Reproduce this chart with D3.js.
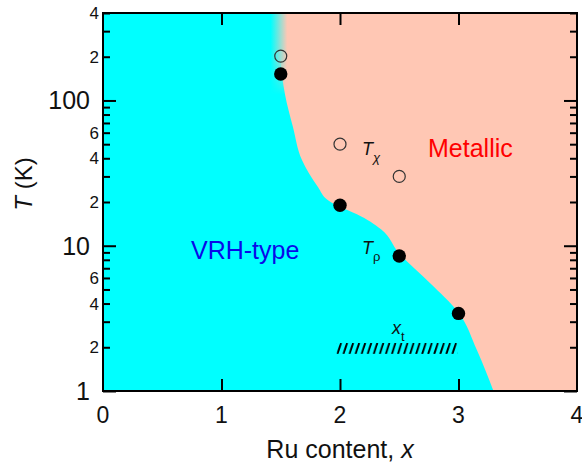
<!DOCTYPE html>
<html>
<head>
<meta charset="utf-8">
<script src="https://cdn.jsdelivr.net/npm/d3@7"></script>
<style>
  html, body { margin: 0; padding: 0; background: #fff; }
  svg { display: block; }
  text { font-family: "Liberation Sans", Arial, Helvetica, sans-serif; }
</style>
</head>
<body>
<svg id="chart" width="582" height="466"></svg>
<script>
// Phase diagram: VRH-type vs metallic regime versus Ru content
const rhoX = [1.5, 2, 2.5, 3];          // T_rho (filled)
const rhoT = [152, 19, 8.5, 3.42];
const chiX = [1.5, 2, 2.5];             // T_chi (open)
const chiT = [202, 50, 30];

// phase boundary between the two regions (top to bottom)
const boundaryX = [1.485, 1.498, 1.536, 1.603, 1.679, 1.814, 1.899, 2.0, 2.143, 2.346, 2.498, 2.759, 2.996, 3.156, 3.295];
const boundaryT = [400, 190, 110, 65.7, 38.9, 25.4, 20.6, 18.5, 16.5, 13.0, 8.9, 5.54, 3.5, 1.91, 1.0];

// x_t hatched range
const xtRange = [1.97, 2.99];
const xtT = [1.8, 2.14];

const xTicks = [0, 1, 2, 3, 4];
const yMajor = [1, 10, 100];
const yMinor = [2, 3, 4, 5, 6, 7, 8, 9, 20, 30, 40, 50, 60, 70, 80, 90, 200, 300, 400];
const yLabels = [1, 2, 4, 6, 10, 20, 40, 60, 100, 200, 400];

const L = 103, R = 577, T = 13, B = 391;
const svg = d3.select("#chart");

const x = d3.scaleLinear().domain([0, 4]).range([L, R]);
const y = d3.scaleLog().domain([1, 400]).range([B, T]);

const defs = svg.append("defs");
defs.append("clipPath").attr("id", "plotClip")
  .append("rect").attr("x", L).attr("y", T).attr("width", R - L).attr("height", B - T);

const grad = defs.append("linearGradient").attr("id", "edgeGrad")
  .attr("x1", "0").attr("x2", "1").attr("y1", "0").attr("y2", "0");
grad.append("stop").attr("offset", "0").attr("stop-color", "#00ffff");
grad.append("stop").attr("offset", "1").attr("stop-color", "#ffc7b4");

const fade = defs.append("linearGradient").attr("id", "fadeGrad")
  .attr("x1", "0").attr("x2", "0").attr("y1", "0").attr("y2", "1");
fade.append("stop").attr("offset", "0").attr("stop-color", "#fff").attr("stop-opacity", 1);
fade.append("stop").attr("offset", "0.55").attr("stop-color", "#fff").attr("stop-opacity", 1);
fade.append("stop").attr("offset", "1").attr("stop-color", "#fff").attr("stop-opacity", 0);
defs.append("mask").attr("id", "fadeMask").attr("maskUnits", "userSpaceOnUse")
  .append("rect").attr("x", x(1.40)).attr("y", T).attr("width", x(1.60) - x(1.40)).attr("height", y(110) - T)
  .attr("fill", "url(#fadeGrad)");

const hatch = defs.append("pattern").attr("id", "hatch")
  .attr("patternUnits", "userSpaceOnUse").attr("width", 6.05).attr("height", 11)
  .attr("x", x(xtRange[0])).attr("y", y(xtT[1]));
hatch.append("line").attr("x1", 1).attr("y1", 11).attr("x2", 4.6).attr("y2", 0)
  .attr("stroke", "#000").attr("stroke-width", 1.9);

const plot = svg.append("g").attr("clip-path", "url(#plotClip)");

// metallic background
plot.append("rect").attr("x", L).attr("y", T).attr("width", R - L).attr("height", B - T)
  .attr("fill", "#ffc7b4");

// VRH region: everything left of the boundary
const boundary = boundaryX.map((d, i) => ({ x: d, t: boundaryT[i] }));
const vrhArea = d3.area()
  .curve(d3.curveMonotoneY)
  .y(d => y(d.t))
  .x0(x(0))
  .x1(d => x(d.x));
plot.append("path").datum(boundary).attr("d", vrhArea).attr("fill", "#00ffff");

// soft edge near the top of the boundary
plot.append("rect")
  .attr("x", x(1.415)).attr("y", T).attr("width", x(1.555) - x(1.415)).attr("height", y(110) - T)
  .attr("fill", "url(#edgeGrad)").attr("mask", "url(#fadeMask)");

// x_t hatched bar
plot.append("rect")
  .attr("x", x(xtRange[0])).attr("y", y(xtT[1]))
  .attr("width", x(xtRange[1]) - x(xtRange[0])).attr("height", y(xtT[0]) - y(xtT[1]))
  .attr("fill", "url(#hatch)");

// markers
plot.selectAll("circle.chi").data(chiX).join("circle").attr("class", "chi")
  .attr("cx", d => x(d)).attr("cy", (d, i) => y(chiT[i])).attr("r", 6)
  .attr("fill", "none").attr("stroke", "#333").attr("stroke-width", 1.2);
plot.selectAll("circle.rho").data(rhoX).join("circle").attr("class", "rho")
  .attr("cx", d => x(d)).attr("cy", (d, i) => y(rhoT[i])).attr("r", 6.7)
  .attr("fill", "#000");

// frame
svg.append("rect").attr("x", L).attr("y", T).attr("width", R - L).attr("height", B - T)
  .attr("fill", "none").attr("stroke", "#000").attr("stroke-width", 2);

// y axes (ticks inward on both sides)
const yAll = yMajor.concat(yMinor);
const yLeft = svg.append("g").attr("transform", `translate(${L},0)`)
  .call(d3.axisLeft(y).tickValues(yAll).tickSize(0).tickFormat(""));
yLeft.select(".domain").remove();
yLeft.selectAll(".tick line").attr("x2", d => yMajor.includes(d) ? 13 : 7)
  .attr("stroke", "#000").attr("stroke-width", 2);

const yRight = svg.append("g").attr("transform", `translate(${R},0)`)
  .call(d3.axisRight(y).tickValues(yAll).tickSize(0).tickFormat(""));
yRight.select(".domain").remove();
yRight.selectAll(".tick line").attr("x2", d => yMajor.includes(d) ? -13 : -7)
  .attr("stroke", "#000").attr("stroke-width", 2);

// y tick labels
svg.append("g").selectAll("text").data(yLabels).join("text")
  .attr("x", d => yMajor.includes(d) ? 90 : 99)
  .attr("y", d => y(d))
  .attr("dy", "0.36em")
  .attr("text-anchor", "end")
  .attr("font-size", d => yMajor.includes(d) ? 25 : 17)
  .attr("fill", "#111")
  .text(d => yMajor.includes(d) ? d : String(d)[0]);

// x axes (ticks inward on bottom and top)
const xBottom = svg.append("g").attr("transform", `translate(0,${B})`)
  .call(d3.axisBottom(x).tickValues(xTicks.slice(1, -1)).tickSize(0).tickFormat(""));
xBottom.select(".domain").remove();
xBottom.selectAll(".tick line").attr("y2", -12).attr("stroke", "#000").attr("stroke-width", 2);
const xTop = svg.append("g").attr("transform", `translate(0,${T})`)
  .call(d3.axisTop(x).tickValues(xTicks.slice(1, -1)).tickSize(0).tickFormat(""));
xTop.select(".domain").remove();
xTop.selectAll(".tick line").attr("y2", 12).attr("stroke", "#000").attr("stroke-width", 2);

svg.append("g").selectAll("text").data(xTicks).join("text")
  .attr("x", d => x(d)).attr("y", 423)
  .attr("text-anchor", "middle").attr("font-size", 23).attr("fill", "#111")
  .text(d => d);

// axis titles
const xt = svg.append("text").attr("x", 340).attr("y", 458).attr("text-anchor", "middle")
  .attr("font-size", 25).attr("fill", "#111");
xt.append("tspan").text("Ru content, ");
xt.append("tspan").attr("font-style", "italic").text("x");

const yt = svg.append("text").attr("transform", "translate(32,184) rotate(-90)")
  .attr("text-anchor", "middle").attr("font-size", 24).attr("fill", "#111");
yt.append("tspan").attr("font-style", "italic").text("T");
yt.append("tspan").text(" (K)");

// region labels
svg.append("text").attr("x", 191).attr("y", 259).attr("font-size", 25).attr("fill", "#0a0ae8").text("VRH-type");
svg.append("text").attr("x", 428).attr("y", 157).attr("font-size", 25).attr("fill", "#ff0000").text("Metallic");

// series labels
function subLabel(px, py, main, sub, subItalic) {
  const t = svg.append("text").attr("x", px).attr("y", py).attr("font-size", 18).attr("fill", "#111");
  t.append("tspan").attr("font-style", "italic").text(main);
  t.append("tspan").attr("dy", 7).attr("font-size", 13)
    .attr("font-style", subItalic ? "italic" : "normal").text(sub);
}
subLabel(362, 155, "T", "χ", true);
subLabel(362, 254, "T", "ρ", false);
subLabel(392, 334, "x", "t", false);
</script>
</body>
</html>
